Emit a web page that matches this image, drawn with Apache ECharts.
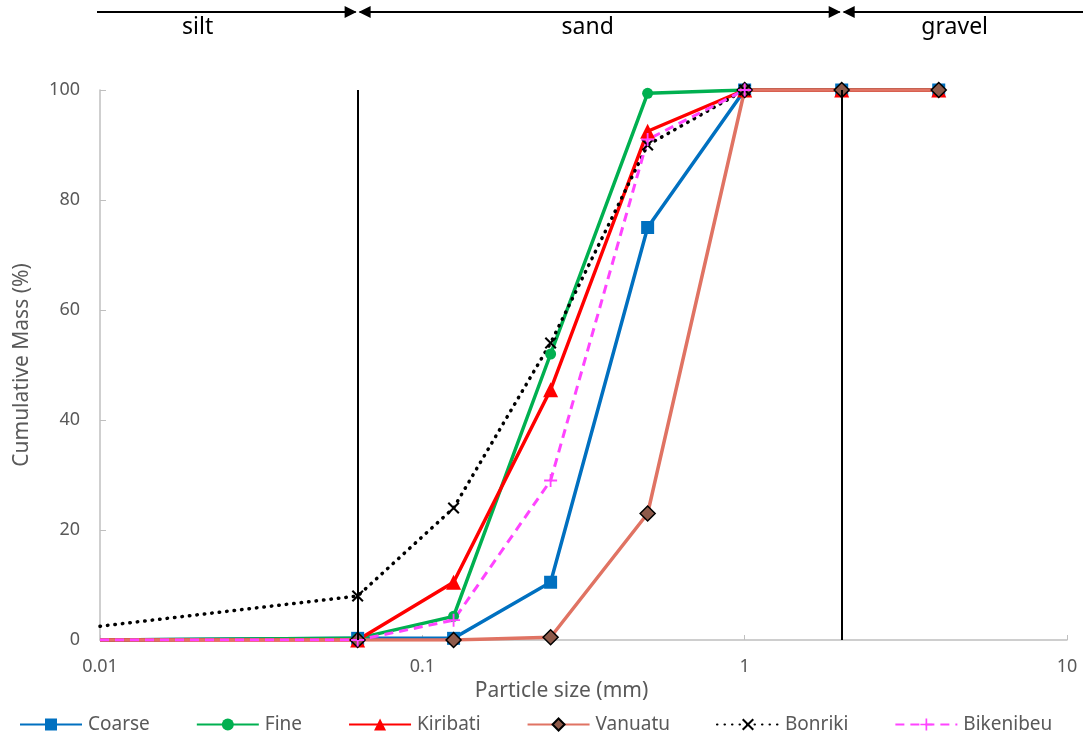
<!DOCTYPE html>
<html>
<head>
<meta charset="utf-8">
<title>Cumulative grain size distribution</title>
<script src="https://cdn.jsdelivr.net/npm/echarts@6/dist/echarts.min.js"></script>
<style>
  html, body { margin: 0; padding: 0; background: #fff; }
  #chart { width: 1086px; height: 740px; }
</style>
</head>
<body>
<div id="chart"></div>
<script>
// particle sizes (mm); first entry is the left edge of the plot
const sizes = [0.01, 0.063, 0.125, 0.25, 0.5, 1, 2, 4]

const coarse    = [0,   0.3, 0.3,  10.5, 75,   100, 100, 100]
const fine      = [0,   0.3, 4.3,  52,   99.4, 100, 100, 100]
const kiribati  = [0,   0,   10.5, 45.5, 92.5, 100, 100, 100]
const vanuatu   = [0,   0,   0,    0.5,  23,   100, 100, 100]
const bonriki   = [2.5, 8,   24,   54,   90,   100, null, null]
const bikenibeu = [0,   0,   3.6,  29,   91,   100, null, null]

const xTicks = [0.01, 0.1, 1, 10]
const yTicks = [0, 20, 40, 60, 80, 100]
const classBounds = [0.063, 2]
const classNames = ['silt', 'sand', 'gravel']

const grey = '#595959'
const font = 'Noto Sans, sans-serif'

function points(values) {
  const out = []
  values.forEach((v, i) => {
    if (v == null) return
    // the edge point only carries the line to the axis, no marker
    out.push(i === 0 ? { value: [sizes[i], v], symbol: 'none' } : [sizes[i], v])
  })
  return out
}

const xPath = 'path://M0,1.2 L1.2,0 L5,3.8 L8.8,0 L10,1.2 L6.2,5 L10,8.8 L8.8,10 L5,6.2 L1.2,10 L0,8.8 L3.8,5 Z'
const plusPath = 'path://M4.3,0 H5.7 V4.3 H10 V5.7 H5.7 V10 H4.3 V5.7 H0 V4.3 H4.3 Z'

function line(name, values, opts) {
  return {
    name,
    type: 'line',
    data: points(values),
    symbol: opts.symbol,
    symbolSize: opts.size,
    showAllSymbol: true,
    lineStyle: Object.assign({ width: 3.5, color: opts.color }, opts.line || {}),
    itemStyle: Object.assign({ color: opts.color }, opts.item || {}),
    emphasis: { disabled: true },
    animation: false,
  }
}

const series = [
  line('Coarse', coarse, { color: '#0070C0', symbol: 'rect', size: 13 }),
  line('Fine', fine, { color: '#00B050', symbol: 'circle', size: 11 }),
  line('Kiribati', kiribati, { color: '#FF0000', symbol: 'triangle', size: 15 }),
  line('Vanuatu', vanuatu, {
    color: '#E07363', symbol: 'diamond', size: 15,
    item: { color: '#8E5A4A', borderColor: '#000', borderWidth: 1.5 },
  }),
  line('Bonriki', bonriki, {
    color: '#000', symbol: xPath, size: 12,
    line: { width: 3.5, type: [0.5, 7], cap: 'round' },
  }),
  line('Bikenibeu', bikenibeu, {
    color: '#FF44FF', symbol: plusPath, size: 13,
    line: { width: 3, type: [9, 6] },
  }),
]

// class boundary verticals, spanning the full y range
series[0].markLine = {
  silent: true,
  symbol: 'none',
  label: { show: false },
  lineStyle: { color: '#000', width: 2, type: 'solid' },
  data: classBounds.map(v => [{ coord: [v, yTicks[0]] }, { coord: [v, yTicks[yTicks.length - 1]] }]),
  animation: false,
}

const chart = echarts.init(document.getElementById('chart'), null, { renderer: 'canvas' })

chart.setOption({
  animation: false,
  grid: { left: 100, right: 19, top: 90, bottom: 100, containLabel: false },
  legend: {
    bottom: 1,
    left: 14,
    itemWidth: 62,
    itemHeight: 15,
    itemGap: 46,
    textStyle: { color: grey, fontSize: 19, fontFamily: font, padding: [0, 0, 0, 1] },
    data: series.map(s => s.name),
  },
  xAxis: {
    type: 'log',
    logBase: 10,
    min: xTicks[0],
    max: xTicks[xTicks.length - 1],
    name: 'Particle size (mm)',
    nameLocation: 'middle',
    nameGap: 34,
    nameTextStyle: { color: grey, fontSize: 21, fontFamily: font, padding: [0, 44, 0, 0] },
    axisLine: { show: true, onZero: false, lineStyle: { color: '#BFBFBF', width: 1.5 } },
    axisTick: { show: true, inside: true, length: 5, lineStyle: { color: '#BFBFBF' } },
    axisLabel: {
      color: grey, fontSize: 18, fontFamily: font, margin: 18,
      formatter: v => String(v),
    },
    splitLine: { show: false },
    minorTick: { show: false },
  },
  yAxis: {
    type: 'value',
    min: yTicks[0],
    max: yTicks[yTicks.length - 1],
    interval: 20,
    name: 'Cumulative Mass (%)',
    nameLocation: 'middle',
    nameGap: 67,
    nameTextStyle: { color: grey, fontSize: 21, fontFamily: font },
    axisLine: { show: true, lineStyle: { color: '#BFBFBF', width: 1.5 } },
    axisTick: { show: true, inside: true, length: 6, lineStyle: { color: '#BFBFBF' } },
    axisLabel: { color: grey, fontSize: 18, fontFamily: font, margin: 20 },
    splitLine: { show: false },
  },
  series,
})

// size-class arrows above the plot, placed from the axis scale
const bx = classBounds.map(v => chart.convertToPixel({ xAxisIndex: 0 }, v))
const yArrow = 12
const xStart = 97
const xEnd = chart.getWidth() - 3
const head = 12

function headTo(x, dir) {
  return {
    type: 'polygon',
    shape: { points: [[x, yArrow], [x - dir * head, yArrow - 6], [x - dir * head, yArrow + 6]] },
    style: { fill: '#000' },
  }
}

function seg(x1, x2) {
  return { type: 'line', shape: { x1, y1: yArrow, x2, y2: yArrow }, style: { stroke: '#000', lineWidth: 2 } }
}

function label(text, x) {
  return {
    type: 'text',
    x, y: 27,
    style: { text, fill: '#000', font: '23px ' + font, align: 'center', verticalAlign: 'middle' },
  }
}

chart.setOption({
  graphic: [
    seg(xStart, bx[0] - 2), headTo(bx[0] - 1, 1),
    seg(bx[0] + 2, bx[1] - 2), headTo(bx[0] + 1, -1), headTo(bx[1] - 1, 1),
    seg(bx[1] + 2, xEnd), headTo(bx[1] + 1, -1),
    label(classNames[0], bx[0] - 160),
    label(classNames[1], (bx[0] + bx[1]) / 2 - 12),
    label(classNames[2], bx[1] + 113),
  ],
})
</script>
</body>
</html>
